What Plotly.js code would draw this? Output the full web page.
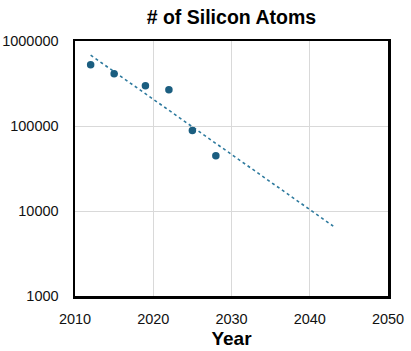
<!DOCTYPE html>
<html>
<head>
<meta charset="utf-8">
<script src="https://cdn.plot.ly/plotly-3.0.1.min.js"></script>
<style>html,body{margin:0;padding:0;background:#fff;}#chart{width:411px;height:351px;}</style>
</head>
<body>
<div id="chart"></div>
<script>
const years = [2012, 2015, 2019, 2022, 2025, 2028];
const atoms = [526000, 412000, 298000, 267000, 88700, 44800];
const trendYears = [2012, 2043];
const trendAtoms = [682000, 6640];
const yTickVals = [1000, 10000, 100000, 1000000];
const yTickText = ['1000', '10000', '100000', '1000000'];
const xTickVals = [2010, 2020, 2030, 2040, 2050];

const color = '#1B5E80';
const font = 'Liberation Sans, Arial, sans-serif';

const data = [
  {x: trendYears, y: trendAtoms, type: 'scatter', mode: 'lines',
   line: {color: '#2E7A9E', width: 1.6, dash: 'dot'}, hoverinfo: 'skip'},
  {x: years, y: atoms, type: 'scatter', mode: 'markers',
   marker: {color: color, size: 7.5}}
];

const layout = {
  width: 411, height: 351,
  margin: {l: 75, r: 23, t: 41, b: 55},
  paper_bgcolor: '#fff', plot_bgcolor: '#fff',
  showlegend: false,
  font: {family: font, color: '#000'},
  title: {text: '<b># of Silicon Atoms</b>', font: {size: 19.5, color: '#000'},
          x: 0.563, xanchor: 'center', y: 0.95, yanchor: 'middle'},
  xaxis: {range: [2010, 2050], tickvals: xTickVals, ticks: 'outside', ticklen: 8,
          tickcolor: 'rgba(0,0,0,0)', tickfont: {size: 14.5, color: '#111'},
          showgrid: true, gridcolor: '#d9d9d9', gridwidth: 1,
          showline: true, linecolor: '#000', linewidth: 2.5, mirror: true,
          zeroline: false,
          title: {text: '<b>Year</b>', font: {size: 19, color: '#000'}, standoff: 6}},
  yaxis: {type: 'log', range: [3, 6], tickvals: yTickVals, ticktext: yTickText,
          ticks: 'outside', ticklen: 11, tickcolor: 'rgba(0,0,0,0)',
          tickfont: {size: 14.5, color: '#111'},
          showgrid: true, gridcolor: '#d9d9d9', gridwidth: 1,
          showline: true, linecolor: '#000', linewidth: 2.5, mirror: true,
          zeroline: false}
};

Plotly.newPlot('chart', data, layout, {staticPlot: true, displayModeBar: false});
</script>
</body>
</html>
